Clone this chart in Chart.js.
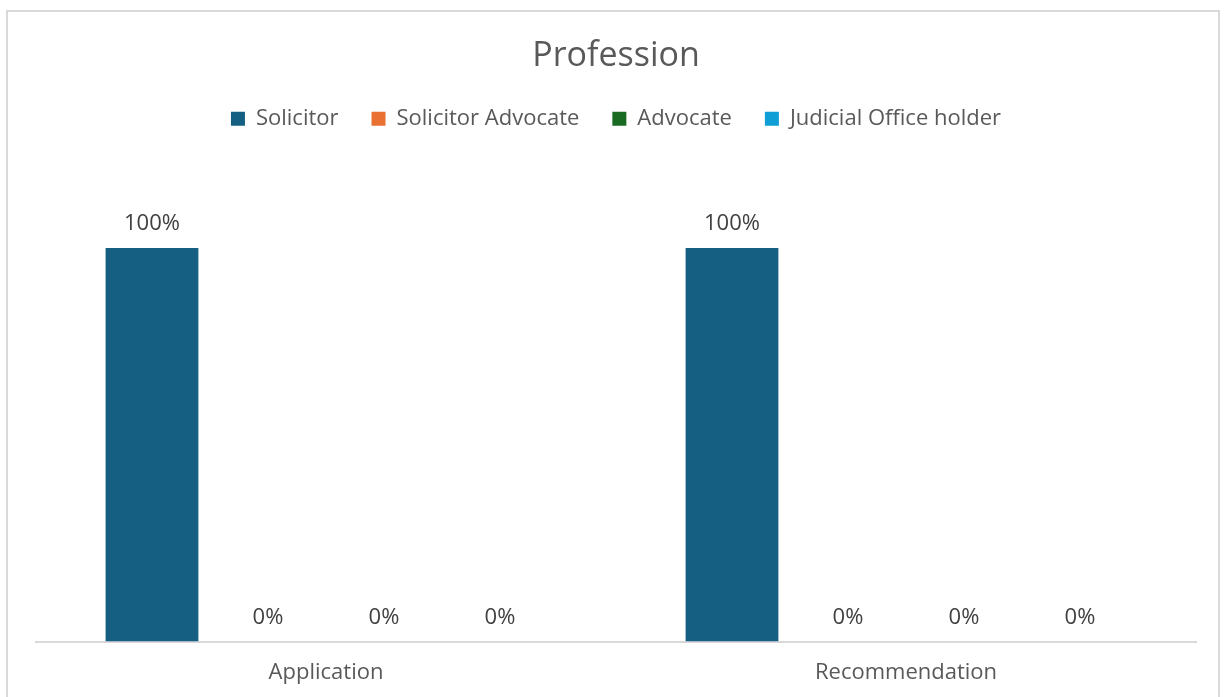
<!DOCTYPE html>
<html>
<head>
<meta charset="utf-8">
<title>Profession</title>
<script src="https://cdn.jsdelivr.net/npm/chart.js@4.4.1/dist/chart.umd.min.js"></script>
<style>
    html, body { margin: 0; padding: 0; background: #fff; overflow: hidden; }
    #wrap { position: relative; width: 1225px; height: 697px; }
    #frame {
        position: absolute; left: 6px; top: 10px; width: 1214px; height: 700px;
        border: 2px solid #d9d9d9; box-sizing: border-box;
    }
    canvas { position: absolute; left: 0; top: 0; }
</style>
</head>
<body>
<div id="wrap">
    <div id="frame"></div>
    <canvas id="chart" width="1225" height="697"></canvas>
</div>
<script>
// Share of applicants / recommendations by profession (%)
const categories = ['Application', 'Recommendation'];
const seriesNames = ['Solicitor', 'Solicitor Advocate', 'Advocate', 'Judicial Office holder'];
const solicitor = [100, 100];
const solicitorAdvocate = [0, 0];
const advocate = [0, 0];
const judicialOfficeHolder = [0, 0];
const seriesColors = ['#156082', '#e97132', '#196b24', '#0f9ed5'];

const FONT = "'Open Sans', sans-serif";

// Draws the value above each bar, e.g. "100%"
const barLabels = {
    id: 'barLabels',
    afterDatasetsDraw(chart) {
        const ctx = chart.ctx;
        ctx.save();
        ctx.font = '22px ' + FONT;
        ctx.fillStyle = '#404040';
        ctx.textAlign = 'center';
        ctx.textBaseline = 'middle';
        chart.data.datasets.forEach((ds, i) => {
            chart.getDatasetMeta(i).data.forEach((bar, j) => {
                ctx.fillText(ds.data[j] + '%', bar.x, bar.y - 24);
            });
        });
        ctx.restore();
    }
};

const values = [solicitor, solicitorAdvocate, advocate, judicialOfficeHolder];

new Chart(document.getElementById('chart'), {
    type: 'bar',
    data: {
        labels: categories,
        datasets: seriesNames.map((name, i) => ({
            label: name,
            data: values[i],
            backgroundColor: seriesColors[i],
            borderWidth: 0,
            barPercentage: 0.8,
            categoryPercentage: 0.8
        }))
    },
    options: {
        responsive: false,
        animation: false,
        layout: { padding: { left: 36, right: 29, top: 0, bottom: -7 } },
        plugins: {
            title: {
                display: true,
                text: 'Profession',
                color: '#595959',
                font: { family: FONT, size: 34, weight: 'normal' },
                padding: { top: 36, bottom: -2 }
            },
            legend: {
                position: 'top',
                labels: {
                    color: '#595959',
                    font: { family: FONT, size: 22 },
                    boxWidth: 14,
                    boxHeight: 14,
                    padding: 33
                }
            },
            tooltip: { enabled: false }
        },
        scales: {
            x: {
                grid: { display: false, drawTicks: false },
                border: { color: '#d9d9d9', width: 2 },
                ticks: { color: '#595959', font: { family: FONT, size: 22 }, padding: 18 }
            },
            y: {
                display: false,
                min: 0,
                max: 127.5
            }
        }
    },
    plugins: [barLabels]
});
</script>
</body>
</html>
